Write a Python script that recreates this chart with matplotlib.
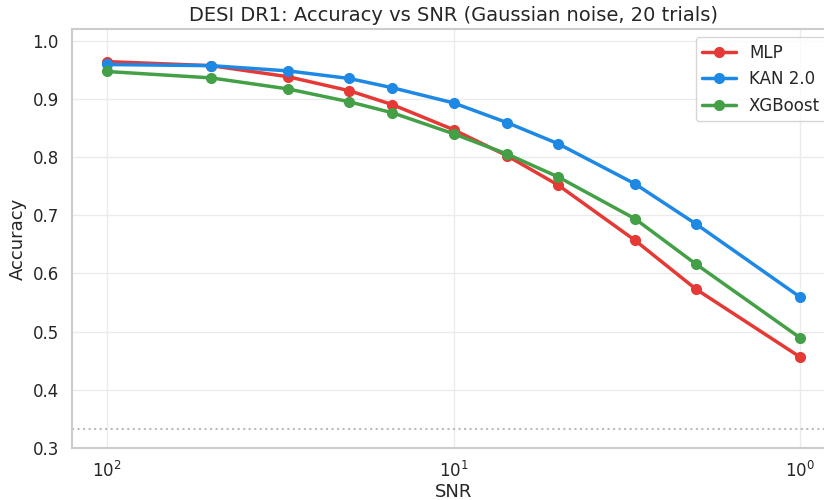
import matplotlib
matplotlib.use("Agg")
import matplotlib.pyplot as plt
import seaborn as sns

# SNR levels tested
snr = [100, 50, 30, 20, 15, 10, 7, 5, 3, 2, 1]

# mean accuracy over 20 noise trials
acc_mlp = [0.964, 0.957, 0.938, 0.914, 0.890, 0.847, 0.802, 0.752, 0.657, 0.573, 0.456]
acc_kan = [0.959, 0.957, 0.948, 0.935, 0.919, 0.893, 0.859, 0.823, 0.754, 0.685, 0.559]
acc_xgb = [0.947, 0.936, 0.917, 0.895, 0.876, 0.840, 0.805, 0.766, 0.694, 0.616, 0.489]

chance = 1 / 3

sns.set_theme(style="whitegrid")
plt.rcParams['font.family'] = ['DejaVu Sans']

fig = plt.figure(figsize=(8.24, 5.0), dpi=100)
ax = fig.add_axes([0.0874, 0.104, 0.926, 0.838])

ax.plot(snr, acc_mlp, marker='o', color='#e53935', lw=2.5, ms=7, label='MLP')
ax.plot(snr, acc_kan, marker='o', color='#1e88e5', lw=2.5, ms=7, label='KAN 2.0')
ax.plot(snr, acc_xgb, marker='o', color='#43a047', lw=2.5, ms=7, label='XGBoost')
ax.axhline(chance, color='#bbbbbb', linestyle=':', lw=1.5)

ax.set_xscale('log')
ax.invert_xaxis()
ax.set_ylim(0.3, 1.02)
ax.grid(True, color='#ebebeb', lw=1.0)
for s in ax.spines.values():
    s.set_color('#cccccc')
    s.set_linewidth(1.5)
ax.set_xlabel('SNR', fontsize=13, labelpad=1)
ax.set_ylabel('Accuracy', fontsize=13)
ax.set_title('DESI DR1: Accuracy vs SNR (Gaussian noise, 20 trials)', fontsize=14)
ax.tick_params(labelsize=12)
ax.legend(loc='upper right', fontsize=12)

fig.savefig('out.png', dpi=100)
